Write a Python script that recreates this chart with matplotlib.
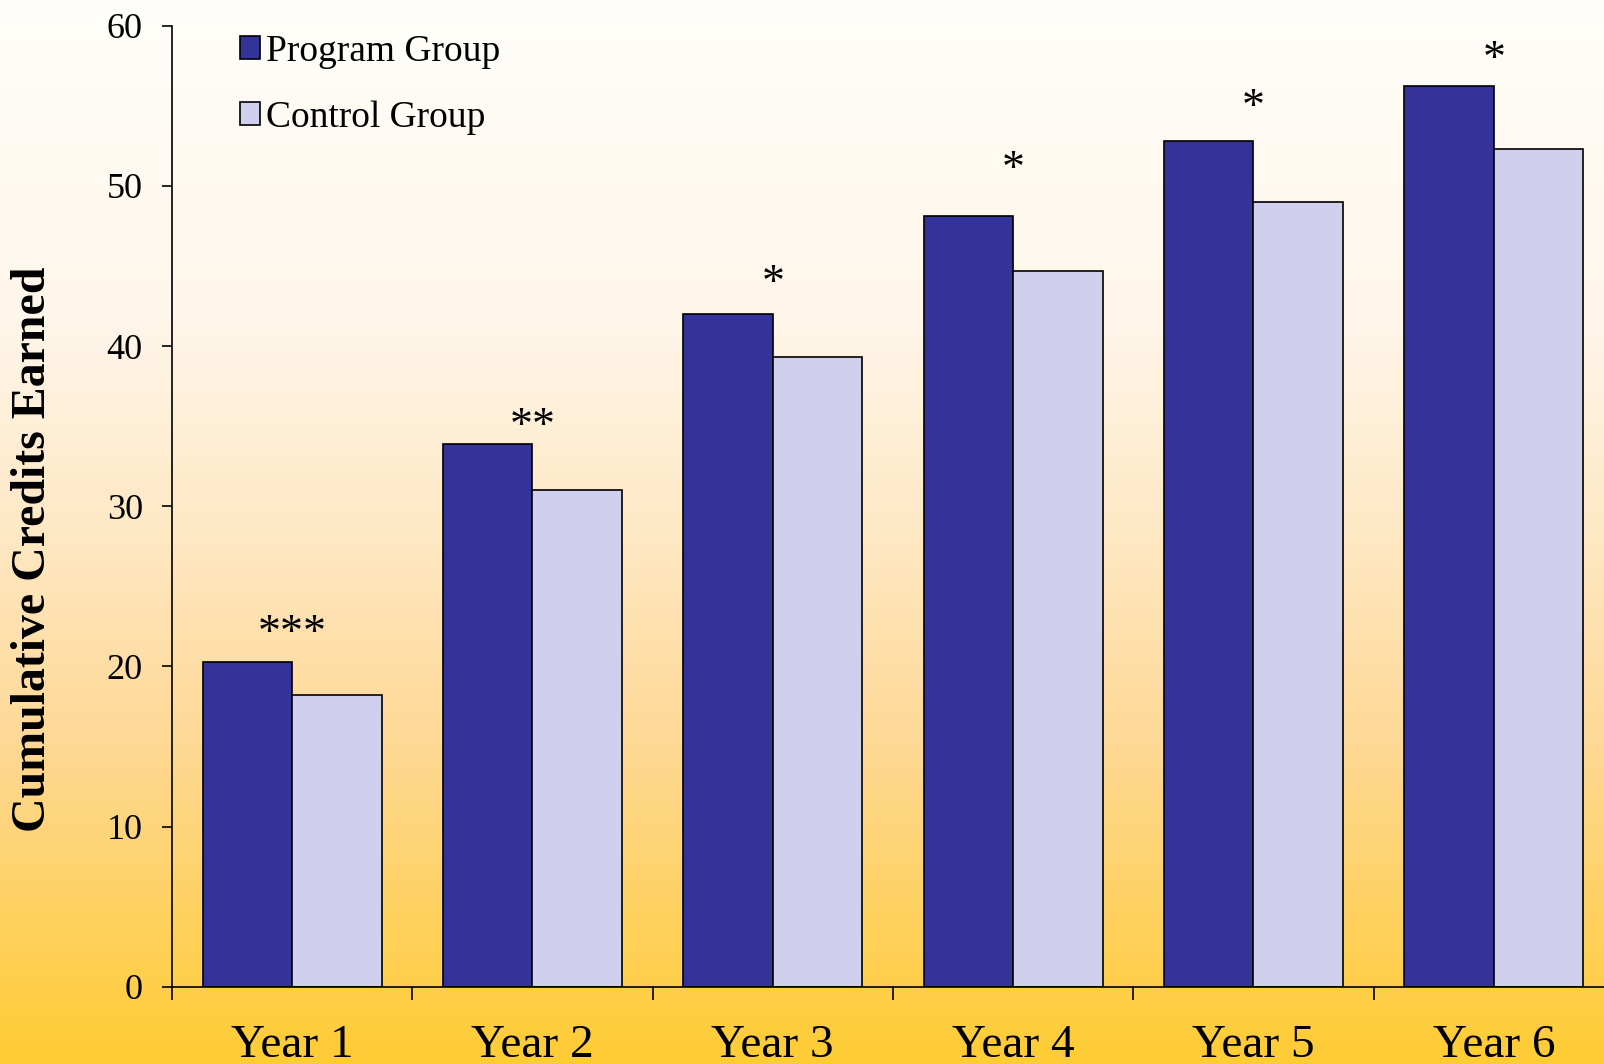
import numpy as np
import matplotlib.pyplot as plt
from matplotlib.colors import LinearSegmentedColormap

years = ['Year 1', 'Year 2', 'Year 3', 'Year 4', 'Year 5', 'Year 6']
program = [20.3, 33.9, 42.0, 48.1, 52.8, 56.2]
control = [18.2, 31.0, 39.3, 44.7, 49.0, 52.3]
stars = ['***', '**', '*', '*', '*', '*']
# height (in credits) of the middle of each significance mark
star_y = [22.65, 35.6, 44.5, 51.6, 55.5, 58.5]

plt.rcParams['font.family'] = ['Liberation Serif', 'DejaVu Serif']

fig = plt.figure(figsize=(16.04, 10.64), dpi=100)

# background: white at the top fading into gold at the bottom
bg = fig.add_axes([0, 0, 1, 1], zorder=0)
cmap = LinearSegmentedColormap.from_list(
    'gold', [(0, '#FFFEFA'), (0.3, '#FEF6EA'), (0.5, '#FEE8C4'),
             (0.7, '#FED895'), (1, '#FFCC33')])
grad = np.linspace(0, 1, 256).reshape(-1, 1)
bg.imshow(grad, aspect='auto', cmap=cmap, extent=[0, 1, 0, 1])
bg.axis('off')

ax = fig.add_axes([0.1072, 0.0724, 0.899, 0.9036], zorder=1)
ax.patch.set_alpha(0)

x = np.arange(len(years))
w = 0.372
ax.bar(x - w / 2, program, w, color='#333399', edgecolor='black', linewidth=1.2,
       label='Program Group')
ax.bar(x + w / 2, control, w, color='#D0D0EE', edgecolor='black', linewidth=1.2,
       label='Control Group')

for i, s in enumerate(stars):
    ax.annotate(s, (x[i], star_y[i]), xytext=(0, -16), textcoords='offset points',
                ha='center', va='baseline', fontsize=33)

ax.set_xlim(-0.5, 5.5)
ax.set_ylim(0, 60)
ax.set_yticks(range(0, 61, 10))
ax.tick_params(axis='y', direction='out', length=7, width=1.2, labelsize=26, pad=14)
ax.set_xticks(x)
ax.set_xticklabels(years)
ax.set_xticks(np.arange(-0.5, 6, 1), minor=True)
ax.tick_params(axis='x', which='major', length=0, labelsize=34, pad=27)
ax.tick_params(axis='x', which='minor', direction='out', length=9.5, width=1.2)

for side in ['top', 'right']:
    ax.spines[side].set_visible(False)
for side in ['left', 'bottom']:
    ax.spines[side].set_linewidth(1.2)

ax.legend(loc='upper left', bbox_to_anchor=(0.140, 0.982), bbox_transform=fig.transFigure,
          frameon=False, fontsize=27, handlelength=0.55, handleheight=0.55,
          handletextpad=0.15, labelspacing=0.85, borderaxespad=0)

fig.text(0.0206, 1 - 549 / 1064, 'Cumulative Credits Earned', rotation=90,
         fontsize=34.5, fontweight='bold', ha='center', va='center')

fig.savefig('out.png', dpi=100)
